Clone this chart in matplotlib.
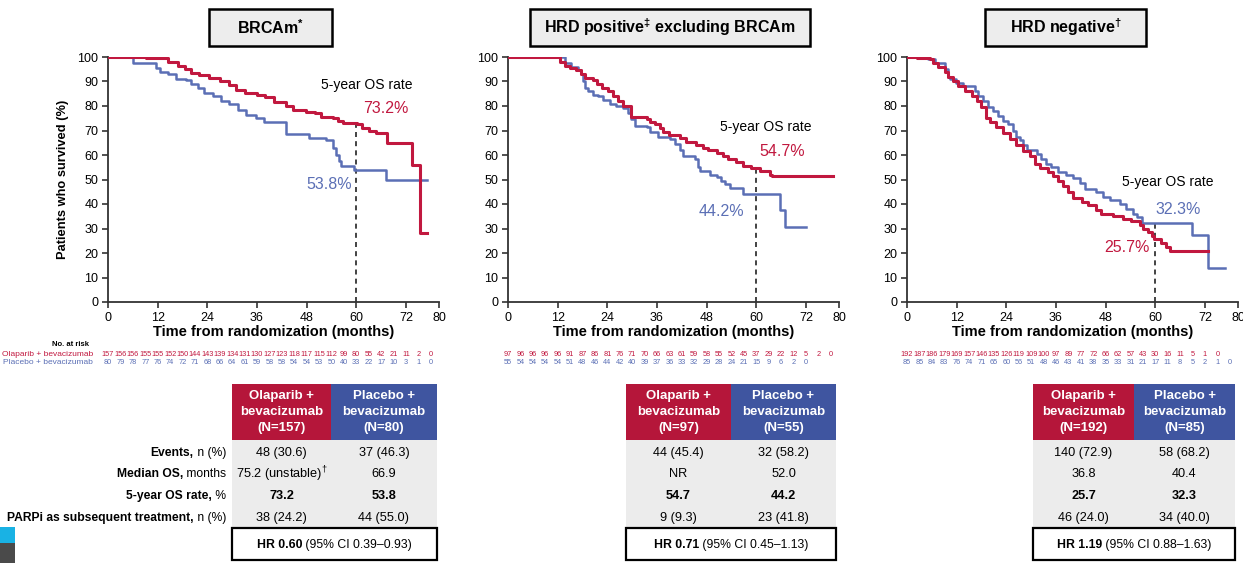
import matplotlib
matplotlib.use("Agg")
import matplotlib.pyplot as plt
import matplotlib.patches as mpatches
from matplotlib import font_manager
from matplotlib.transforms import blended_transform_factory

W, H = 1243, 563

_names = {f.name for f in font_manager.fontManager.ttflist}
FONT = "Liberation Sans Narrow" if "Liberation Sans Narrow" in _names else "Liberation Sans"

plt.rcParams.update({
    "font.family": [FONT, "DejaVu Sans"],
    "mathtext.fontset": "custom",
    "mathtext.rm": FONT,
    "mathtext.it": FONT + ":italic",
    "mathtext.bf": FONT + ":bold",
})

RED = "#c1183f"
BLUE = "#5b6fb5"
HEAD_RED = "#b5163a"
HEAD_BLUE = "#3f55a0"
BODY_GRAY = "#ececec"

# ---------------------------------------------------------------------------
# Data
# ---------------------------------------------------------------------------
RISK_MONTHS = [0, 3, 6, 9, 12, 15, 18, 21, 24, 27, 30, 33, 36, 39, 42, 45, 48,
               51, 54, 57, 60, 63, 66, 69, 72, 75, 78]

# BRCAm
brca_ola_t = [0, 9.2, 14.5, 16.9, 18.5, 20, 22, 24.5, 27, 29.3, 31, 33, 36, 38, 40, 43,
              44.6, 47.8, 50, 51.5, 54.3, 55.5, 56.7, 60.3, 61.5, 63, 64.7, 67.5, 73.5,
              75.3, 77.2]
brca_ola_s = [100, 99.5, 98, 96.5, 95, 93.5, 92.5, 91.5, 90, 88.5, 86.5, 85.5, 84.5, 83.5,
              81.5, 80, 78.5, 77.5, 77, 75.5, 75, 74, 73.2, 72.5, 71, 70, 69, 65, 56, 28, 28]
brca_pla_t = [0, 6, 11.7, 12.5, 14.5, 16.5, 18.9, 20, 21.7, 23.3, 25.3, 27.3, 29.3, 31.4,
              33.4, 35.8, 37.8, 43, 48.6, 52.7, 54.3, 55, 55.9, 56.3, 59.5, 67.1, 77.2]
brca_pla_s = [100, 97.5, 95.5, 94, 93, 91, 90.5, 89, 87.5, 85.5, 84, 82, 81, 78.5, 76.5,
              75, 73.5, 68.5, 67, 66, 63, 60, 57.5, 55.5, 53.8, 50, 50]
brca_ola_risk = [157, 156, 156, 155, 155, 152, 150, 144, 143, 139, 134, 131, 130, 127, 123,
                 118, 117, 115, 112, 99, 80, 55, 42, 21, 11, 2, 0]
brca_pla_risk = [80, 79, 78, 77, 76, 74, 72, 71, 68, 66, 64, 61, 59, 58, 58, 54, 54, 53, 50,
                 40, 33, 22, 17, 10, 3, 1, 0]

# HRD positive excluding BRCAm
hrdp_ola_t = [0, 12.5, 13.7, 14.9, 16.5, 17.7, 18.5, 20.6, 21.4, 22.6, 24.2, 25.4, 26.6,
              27.8, 29.8, 33.5, 34.3, 35.5, 36.7, 37.5, 39, 41.5, 43.1, 45.5, 47.2, 48.4,
              50.4, 52, 53.2, 55.2, 56.8, 58.8, 60.9, 63.3, 63.7, 78.6]
hrdp_ola_s = [100, 98, 96.5, 95.5, 94.5, 93, 91.5, 90.5, 89, 87.5, 86, 84, 82, 80, 75.5,
              74.5, 73.5, 72.5, 71, 69.5, 68, 67, 65.5, 64, 63, 62, 61, 59.5, 58.5, 57,
              55.5, 54.7, 53.5, 52, 51.5, 51.5]
hrdp_pla_t = [0, 13.7, 15.3, 16.9, 17.7, 18.1, 18.5, 19.3, 20.6, 21.8, 23, 24.6, 26.2, 27.8,
              29, 29.8, 30.6, 33.5, 34.3, 36.3, 39.1, 40.3, 41.5, 42.3, 45.1, 45.9, 46.3,
              48.8, 50.4, 51.6, 52.4, 53.6, 56.8, 65.7, 66.9, 72.1]
hrdp_pla_s = [100, 97.5, 96, 94.5, 93, 90, 87.5, 86, 84.5, 84, 82.5, 81, 80, 79, 77, 74.5,
              72, 71.5, 69.5, 67.5, 66.5, 64.5, 62, 59.5, 58.5, 55, 53.5, 52, 51, 49.5, 48,
              46.5, 44.2, 37.5, 30.5, 30.5]
hrdp_ola_risk = [97, 96, 96, 96, 96, 91, 87, 86, 81, 76, 71, 70, 66, 63, 61, 59, 58, 55, 52,
                 45, 37, 29, 22, 12, 5, 2, 0]
hrdp_pla_risk = [55, 54, 54, 54, 54, 51, 48, 46, 44, 42, 40, 39, 37, 36, 33, 32, 29, 28, 24,
                 21, 15, 9, 6, 2, 0]

# HRD negative
hrdn_ola_t = [0, 2.3, 5.5, 6.3, 7.5, 9.1, 9.9, 11.1, 12.3, 13.9, 15.6, 16.8, 18, 19.2, 20,
              21.6, 23.2, 24.8, 26.4, 28, 29.7, 30.9, 32.1, 34.1, 35.3, 36.5, 37.7, 38.9,
              40.1, 42.2, 43.8, 45.8, 47, 49.8, 52.2, 54.2, 56.3, 57.1, 58.3, 59.1, 59.8,
              61.5, 62.7, 63.5, 72.8]
hrdn_ola_s = [100, 99.5, 99, 97.5, 96, 94, 92, 90, 88, 86, 84, 82, 79.5, 75, 73.5, 71.5, 69,
              66.5, 64, 61.5, 59.5, 56.5, 54.5, 53, 51.5, 49.5, 47.5, 45, 42.5, 41, 39.5,
              37.5, 36, 35, 34, 33, 31.5, 30, 28.5, 27, 25.7, 24, 22.5, 21, 21]
hrdn_pla_t = [0, 5.1, 6.7, 9.1, 9.9, 10.3, 11.9, 13.5, 16.4, 17.2, 18.4, 19.6, 20.8, 22,
              23.2, 24.4, 25.6, 26.4, 27.2, 28, 28.9, 31.3, 32.5, 33.7, 34.9, 36.5, 38.5,
              40.1, 41.8, 43, 45.8, 47.4, 49, 51.4, 53, 54.6, 55.5, 56.7, 68.8, 72.8, 76.8]
hrdn_pla_s = [100, 99, 97.5, 95, 92, 91, 89.5, 88, 86, 84, 82, 79.5, 78, 76, 74, 72.5, 70,
              67.5, 66, 64, 62, 60.5, 58.5, 56.5, 55, 53, 52, 50.5, 48.5, 46, 45, 43, 41.5,
              40, 38, 36, 34.5, 32.3, 27.5, 14, 14]
hrdn_ola_risk = [192, 187, 186, 179, 169, 157, 146, 135, 126, 119, 109, 100, 97, 89, 77, 72,
                 66, 62, 57, 43, 30, 16, 11, 5, 1, 0]
hrdn_pla_risk = [85, 85, 84, 83, 76, 74, 71, 65, 60, 56, 51, 48, 46, 43, 41, 38, 35, 33, 31,
                 21, 17, 11, 8, 5, 2, 1, 0]

TITLES = ["BRCAm$^{\\mathbf{*}}$", "HRD positive$^{\\mathbf{‡}}$ excluding BRCAm",
          "HRD negative$^{\\mathbf{†}}$"]
N_OLA = [157, 97, 192]
N_PLA = [80, 55, 85]
OS_RATE_OLA = [73.2, 54.7, 25.7]
OS_RATE_PLA = [53.8, 44.2, 32.3]
EVENTS_OLA = ["48 (30.6)", "44 (45.4)", "140 (72.9)"]
EVENTS_PLA = ["37 (46.3)", "32 (58.2)", "58 (68.2)"]
MEDIAN_OLA = ["75.2 (unstable)$^{†}$", "NR", "36.8"]
MEDIAN_PLA = ["66.9", "52.0", "40.4"]
PARPI_OLA = ["38 (24.2)", "9 (9.3)", "46 (24.0)"]
PARPI_PLA = ["44 (55.0)", "23 (41.8)", "34 (40.0)"]
HR = ["0.60", "0.71", "1.19"]
HR_CI = ["0.39–0.93", "0.45–1.13", "0.88–1.63"]
ROW_LABELS = [("Events,", " n (%)"), ("Median OS,", " months"),
              ("5-year OS rate,", " %"), ("PARPi as subsequent treatment,", " n (%)")]

# ---------------------------------------------------------------------------
# Layout (pixels)
# ---------------------------------------------------------------------------
AX_LEFT = [108, 508, 907]
AX_WIDTH = 331
AX_TOP, AX_BOTTOM = 57, 302
TITLE_BOX = [(209, 332), (530, 810), (985, 1146)]
TITLE_Y = (9, 46)
TABLE_X = [(232, 331, 437), (626, 731, 836), (1033, 1134, 1235)]
HEAD_Y = (384, 440)
BODY_BOTTOM = 527
HR_Y = (528, 560)
ROW_Y = [453, 474, 496, 518]
# annotation anchors (data coords): label, ola pct, pla pct
ANNOT = [
    ((51.5, 88.5), (67.2, 79), (53.5, 47.8)),
    ((51.2, 71.5), (66.2, 61.4), (51.7, 37)),
    ((52.0, 48.8), (53.2, 22.4), (65.5, 37.8)),
]
DASH_TOP = [73.2, 54.7, 32.3]

FS_TITLE = 11.5
FS_TICK = 9
FS_NOTE = 10
FS_PCT = 11.5
FS_CELL = 9.2
FS_ROW = 8.7
FS_HR = 8.8


def fx(px):
    return px / W


def fy(py):
    return 1 - py / H


fig = plt.figure(figsize=(W / 100, H / 100), dpi=100)
fig.patch.set_facecolor("white")
renderer = fig.canvas.get_renderer()


def rect(x0, y0, x1, y1, **kw):
    fig.add_artist(mpatches.Rectangle((fx(x0), fy(y1)), (x1 - x0) / W, (y1 - y0) / H,
                                      transform=fig.transFigure, **kw))


def rich_text(x, y, bold, normal, size, ha="right"):
    tb = fig.text(0, 0, bold, fontsize=size, fontweight="bold", va="center", ha="left")
    tn = fig.text(0, 0, normal, fontsize=size, va="center", ha="left")
    wb = tb.get_window_extent(renderer).width
    wn = tn.get_window_extent(renderer).width
    total = wb + wn
    x0 = x - total if ha == "right" else x - total / 2
    tb.set_position((fx(x0), fy(y)))
    tn.set_position((fx(x0 + wb), fy(y)))


curves = [
    (brca_ola_t, brca_ola_s, brca_pla_t, brca_pla_s, brca_ola_risk, brca_pla_risk),
    (hrdp_ola_t, hrdp_ola_s, hrdp_pla_t, hrdp_pla_s, hrdp_ola_risk, hrdp_pla_risk),
    (hrdn_ola_t, hrdn_ola_s, hrdn_pla_t, hrdn_pla_s, hrdn_ola_risk, hrdn_pla_risk),
]

for i, (ot, os_, pt, ps, orisk, prisk) in enumerate(curves):
    ax = fig.add_axes([fx(AX_LEFT[i]), fy(AX_BOTTOM), AX_WIDTH / W, (AX_BOTTOM - AX_TOP) / H])
    ax.step(pt, ps, where="post", color=BLUE, lw=1.8, zorder=3)
    ax.step(ot, os_, where="post", color=RED, lw=2.2, zorder=4)
    ax.plot([60, 60], [0, DASH_TOP[i]], color="#222222", lw=1.2, ls=(0, (3, 2.5)), zorder=2)

    ax.set_xlim(0, 80)
    ax.set_ylim(0, 100)
    ax.set_xticks([0, 12, 24, 36, 48, 60, 72, 80])
    ax.set_yticks(range(0, 101, 10))
    for s in ["top", "right"]:
        ax.spines[s].set_visible(False)
    for s in ["left", "bottom"]:
        ax.spines[s].set_color("#333333")
        ax.spines[s].set_linewidth(1.3)
    ax.tick_params(direction="out", length=4, width=1.2, color="#333333",
                   labelsize=FS_TICK, pad=3)
    ax.set_xlabel("Time from randomization (months)", fontsize=10.5,
                  fontweight="bold", labelpad=1)
    if i == 0:
        ax.set_ylabel("Patients who survived (%)", fontsize=9.3, fontweight="bold",
                      labelpad=6)
    ax.patch.set_alpha(0)

    (lx, ly), (ox, oy), (px_, py_) = ANNOT[i]
    ax.text(lx, ly, "5-year OS rate", fontsize=FS_NOTE, ha="left", va="center")
    ax.text(ox, oy, f"{OS_RATE_OLA[i]}%", fontsize=FS_PCT, color=RED, ha="center",
            va="center")
    ax.text(px_, py_, f"{OS_RATE_PLA[i]}%", fontsize=FS_PCT, color=BLUE, ha="center",
            va="center")

    # title box
    bx0, bx1 = TITLE_BOX[i]
    rect(bx0, TITLE_Y[0], bx1, TITLE_Y[1], facecolor="#ededed", edgecolor="black", lw=1.8)
    fig.text(fx((bx0 + bx1) / 2), fy(sum(TITLE_Y) / 2), TITLES[i], fontsize=FS_TITLE,
             fontweight="bold", ha="center", va="center")

    # numbers at risk
    tr = blended_transform_factory(ax.transData, fig.transFigure)
    for m, v in zip(RISK_MONTHS, orisk):
        fig.text(m, fy(354), str(v), transform=tr, fontsize=5.3, color=RED,
                 ha="center", va="center")
    for m, v in zip(RISK_MONTHS, prisk):
        fig.text(m, fy(363), str(v), transform=tr, fontsize=5.3, color=BLUE,
                 ha="center", va="center")

    # summary table
    c0, c1, c2 = TABLE_X[i]
    rect(c0, HEAD_Y[0], c1, HEAD_Y[1], facecolor=HEAD_RED, edgecolor="none")
    rect(c1, HEAD_Y[0], c2, HEAD_Y[1], facecolor=HEAD_BLUE, edgecolor="none")
    rect(c0, HEAD_Y[1], c2, BODY_BOTTOM, facecolor=BODY_GRAY, edgecolor="none")
    hy = sum(HEAD_Y) / 2
    fig.text(fx((c0 + c1) / 2), fy(hy), f"Olaparib +\nbevacizumab\n(N={N_OLA[i]})",
             color="white", fontsize=9.5, fontweight="bold", ha="center", va="center",
             linespacing=1.4)
    fig.text(fx((c1 + c2) / 2), fy(hy), f"Placebo +\nbevacizumab\n(N={N_PLA[i]})",
             color="white", fontsize=9.5, fontweight="bold", ha="center", va="center",
             linespacing=1.4)
    cells = [(EVENTS_OLA[i], EVENTS_PLA[i], "normal"),
             (MEDIAN_OLA[i], MEDIAN_PLA[i], "normal"),
             (f"{OS_RATE_OLA[i]}", f"{OS_RATE_PLA[i]}", "bold"),
             (PARPI_OLA[i], PARPI_PLA[i], "normal")]
    for ry, (a, b, w) in zip(ROW_Y, cells):
        fig.text(fx((c0 + c1) / 2), fy(ry), a, fontsize=FS_CELL, fontweight=w,
                 ha="center", va="center")
        fig.text(fx((c1 + c2) / 2), fy(ry), b, fontsize=FS_CELL, fontweight=w,
                 ha="center", va="center")
    rect(c0, HR_Y[0], c2, HR_Y[1], facecolor="white", edgecolor="black", lw=1.6)
    rich_text((c0 + c2) / 2, sum(HR_Y) / 2 + 1, f"HR {HR[i]}",
              f" (95% CI {HR_CI[i]})", FS_HR, ha="center")

# risk table labels
fig.text(fx(89), fy(344), "No. at risk", fontsize=5.5, fontweight="bold", ha="right",
         va="center")
fig.text(fx(93), fy(354), "Olaparib + bevacizumab", fontsize=6, color=RED, ha="right",
         va="center")
fig.text(fx(93), fy(363), "Placebo + bevacizumab", fontsize=6, color=BLUE, ha="right",
         va="center")

# row labels
for ry, (b, n) in zip(ROW_Y, ROW_LABELS):
    rich_text(226, ry, b, n, FS_ROW, ha="right")

# corner decoration
rect(0, 527, 15, 543, facecolor="#19b2e4", edgecolor="none")
rect(0, 543, 15, 563, facecolor="#4a4a4a", edgecolor="none")

fig.savefig("out.png", dpi=100, facecolor="white")
